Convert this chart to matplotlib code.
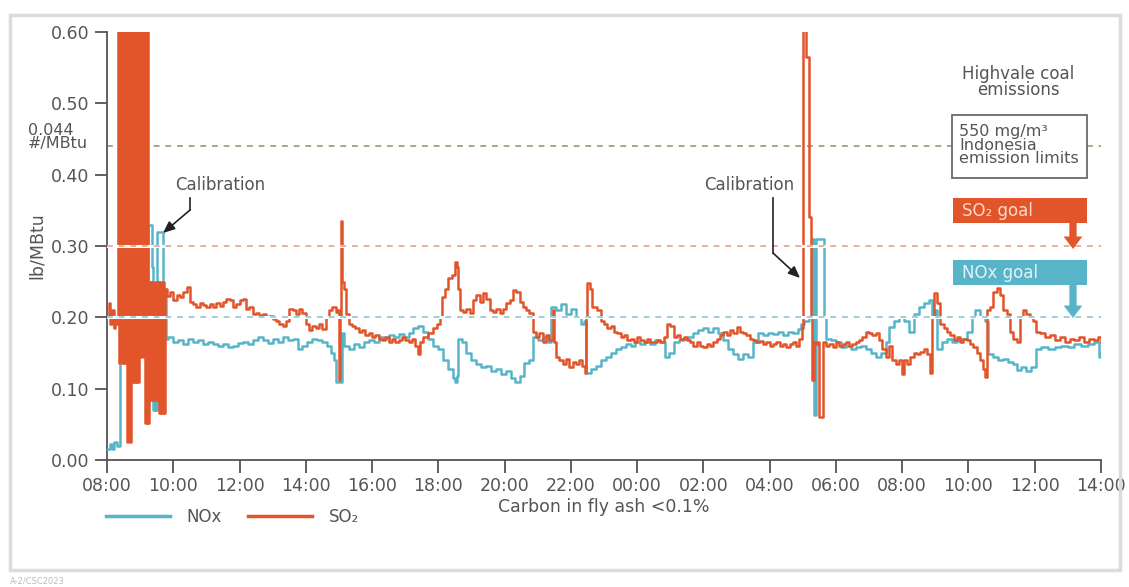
import matplotlib.pyplot as plt
from matplotlib.patches import Rectangle

# hours after 08:00 on day one
nox_hours = [0.00, 0.08, 0.15, 0.22, 0.30, 0.38, 0.40, 0.55, 0.75, 0.95, 1.10, 1.22, 1.23, 1.35, 1.36, 1.39,
             1.40, 1.44, 1.46, 1.50, 1.68, 1.69, 1.74, 1.78,
             1.85, 2.0, 2.15, 2.3, 2.45, 2.6, 2.75, 2.9, 3.05, 3.2, 3.35, 3.5, 3.65, 3.8, 3.95, 4.1, 4.25,
             4.4, 4.55, 4.7, 4.85, 5.0, 5.15, 5.3, 5.45, 5.6, 5.75, 5.9, 6.05, 6.2, 6.35, 6.5, 6.65, 6.75,
             6.85, 6.9, 7.05, 7.08, 7.15, 7.3, 7.45, 7.6, 7.75, 7.9, 8.05, 8.2, 8.35, 8.5, 8.65, 8.8, 8.95,
             9.1, 9.25, 9.4, 9.55, 9.7, 9.85, 10.0, 10.15, 10.3, 10.45, 10.5, 10.55, 10.6, 10.7, 10.85,
             11.0, 11.15, 11.3, 11.45, 11.6, 11.75, 11.9, 12.05, 12.2, 12.3, 12.45, 12.6, 12.75, 12.85,
             13.0, 13.15, 13.3, 13.4, 13.55, 13.7, 13.85, 14.0, 14.15, 14.3, 14.4, 14.45, 14.6, 14.75,
             14.9, 15.05, 15.2, 15.35, 15.5, 15.65, 15.8, 15.95, 16.1, 16.25, 16.4, 16.55, 16.7, 16.85,
             16.95, 17.1, 17.25, 17.4, 17.55, 17.7, 17.85, 18.0, 18.15, 18.3, 18.45, 18.6, 18.75, 18.9,
             19.05, 19.2, 19.35, 19.5, 19.65, 19.8, 19.95, 20.1, 20.25, 20.4, 20.55, 20.7, 20.85, 20.95,
             21.05, 21.2, 21.28, 21.32, 21.33, 21.38, 21.39, 21.62, 21.64, 21.7, 21.85, 22.0, 22.15, 22.3,
             22.45, 22.6, 22.75, 22.9, 23.05, 23.2, 23.35, 23.5, 23.6, 23.75, 23.9, 24.05, 24.2, 24.35,
             24.5, 24.65, 24.8, 24.9, 25.0, 25.05, 25.2, 25.35, 25.5, 25.65, 25.8, 25.95, 26.1, 26.2,
             26.35, 26.5, 26.6, 26.75, 26.9, 27.05, 27.2, 27.35, 27.45, 27.6, 27.75, 27.9, 28.05, 28.2,
             28.4, 28.6, 28.8, 29.0, 29.2, 29.4, 29.6, 29.8, 29.95, 30.0]
nox_values = [0.015, 0.022, 0.015, 0.025, 0.020, 0.028, 0.14, 0.16, 0.19, 0.20, 0.21, 0.18, 0.33, 0.33, 0.27, 0.27,
              0.07, 0.12, 0.07, 0.32, 0.32, 0.24, 0.24, 0.17,
              0.172, 0.165, 0.168, 0.162, 0.170, 0.166, 0.168, 0.163, 0.166, 0.162, 0.160, 0.163, 0.158,
              0.160, 0.164, 0.166, 0.162, 0.168, 0.172, 0.168, 0.164, 0.170, 0.165, 0.172, 0.168, 0.170,
              0.155, 0.160, 0.165, 0.170, 0.168, 0.165, 0.160, 0.150, 0.140, 0.109, 0.109, 0.178, 0.160,
              0.155, 0.162, 0.158, 0.165, 0.168, 0.165, 0.172, 0.170, 0.175, 0.173, 0.176, 0.172, 0.178,
              0.185, 0.188, 0.180, 0.170, 0.160, 0.155, 0.140, 0.128, 0.115, 0.110, 0.118, 0.170, 0.165,
              0.150, 0.140, 0.135, 0.130, 0.132, 0.125, 0.128, 0.120, 0.125, 0.115, 0.110, 0.118, 0.136,
              0.140, 0.172, 0.168, 0.172, 0.165, 0.215, 0.210, 0.218, 0.205, 0.212, 0.200, 0.190, 0.195,
              0.122, 0.128, 0.132, 0.140, 0.145, 0.150, 0.155, 0.158, 0.162, 0.160, 0.165, 0.162, 0.166,
              0.163, 0.168, 0.165, 0.145, 0.150, 0.165, 0.168, 0.170, 0.172, 0.178, 0.182, 0.185, 0.180,
              0.185, 0.178, 0.168, 0.155, 0.148, 0.142, 0.148, 0.145, 0.165, 0.178, 0.175, 0.178, 0.176,
              0.180, 0.175, 0.180, 0.178, 0.183, 0.190, 0.195, 0.200, 0.31, 0.31, 0.063, 0.063, 0.31, 0.31,
              0.200, 0.170, 0.168, 0.165, 0.158, 0.160, 0.155, 0.158, 0.160, 0.155, 0.150, 0.145, 0.150,
              0.165, 0.186, 0.195, 0.200, 0.195, 0.180, 0.205, 0.215, 0.220, 0.224, 0.200, 0.210, 0.155,
              0.165, 0.170, 0.165, 0.168, 0.170, 0.180, 0.200, 0.210, 0.200, 0.195, 0.148, 0.145, 0.140,
              0.142, 0.138, 0.135, 0.126, 0.130, 0.125, 0.130, 0.155, 0.158, 0.155, 0.158, 0.160, 0.158,
              0.162, 0.160, 0.163, 0.165, 0.145, 0.150]

so2_hours = [0.00, 0.05, 0.10, 0.15, 0.20, 0.25, 0.30,
             0.32, 0.36, 0.40, 0.44, 0.48, 0.52, 0.56, 0.60, 0.64, 0.68, 0.72, 0.76, 0.80, 0.84, 0.88,
             0.92, 0.96, 1.00, 1.04, 1.08, 1.12, 1.16, 1.20, 1.24, 1.28, 1.32, 1.36, 1.40, 1.44, 1.48,
             1.52, 1.56, 1.60, 1.64, 1.68, 1.72, 1.76,
             1.80, 1.9, 2.0, 2.1, 2.2, 2.3, 2.4, 2.5, 2.6, 2.7, 2.8, 2.9, 3.0, 3.1, 3.2, 3.3, 3.4, 3.5,
             3.6, 3.7, 3.8, 3.9, 4.0, 4.1, 4.2, 4.3, 4.4, 4.5, 4.6, 4.7, 4.8, 4.9, 5.0, 5.1, 5.2, 5.3,
             5.4, 5.5, 5.6, 5.7, 5.8, 5.9, 6.0, 6.1, 6.2, 6.3, 6.4, 6.5, 6.6, 6.7, 6.8, 6.9, 6.98, 7.0,
             7.04, 7.06, 7.09, 7.1, 7.15, 7.2, 7.3, 7.4, 7.5, 7.6, 7.7, 7.8, 7.9, 8.0, 8.1, 8.2, 8.3,
             8.4, 8.5, 8.6, 8.7, 8.8, 8.9, 9.0, 9.1, 9.2, 9.3, 9.4, 9.45, 9.55, 9.7, 9.85, 9.95, 10.05,
             10.1, 10.2, 10.3, 10.4, 10.5, 10.55, 10.6, 10.65, 10.75, 10.85, 10.95, 11.05, 11.15, 11.25,
             11.35, 11.45, 11.55, 11.65, 11.75, 11.85, 11.95, 12.05, 12.15, 12.25, 12.35, 12.45, 12.55,
             12.65, 12.75, 12.85, 12.95, 13.05, 13.15, 13.25, 13.35, 13.45, 13.5, 13.55, 13.65, 13.75,
             13.85, 13.95, 14.05, 14.15, 14.25, 14.35, 14.42, 14.45, 14.5, 14.58, 14.65, 14.8, 14.9,
             15.0, 15.1, 15.2, 15.3, 15.4, 15.5, 15.6, 15.7, 15.8, 15.9, 16.0, 16.1, 16.2, 16.3, 16.4,
             16.5, 16.6, 16.7, 16.8, 16.9, 17.0, 17.1, 17.2, 17.3, 17.4, 17.5, 17.6, 17.7, 17.8, 17.9,
             18.0, 18.1, 18.2, 18.3, 18.4, 18.5, 18.6, 18.7, 18.8, 18.9, 19.0, 19.1, 19.2, 19.3, 19.4,
             19.5, 19.6, 19.7, 19.8, 19.9, 20.0, 20.1, 20.2, 20.3, 20.4, 20.5, 20.6, 20.7, 20.8, 20.9,
             20.98, 21.0, 21.08, 21.1, 21.18, 21.2, 21.24, 21.27, 21.3, 21.33, 21.4, 21.47, 21.5, 21.55,
             21.6, 21.7, 21.8, 21.9, 22.0, 22.1, 22.2, 22.3, 22.4, 22.5, 22.6, 22.7, 22.8, 22.9, 23.0,
             23.1, 23.2, 23.3, 23.4, 23.5, 23.6, 23.7, 23.8, 23.9, 24.0, 24.05, 24.15, 24.25, 24.35,
             24.45, 24.55, 24.65, 24.75, 24.85, 24.9, 24.95, 25.05, 25.15, 25.25, 25.35, 25.45, 25.55,
             25.65, 25.75, 25.85, 25.95, 26.05, 26.15, 26.25, 26.35, 26.45, 26.5, 26.55, 26.65, 26.75,
             26.85, 26.95, 27.05, 27.15, 27.25, 27.35, 27.45, 27.55, 27.65, 27.75, 27.85, 27.95, 28.05,
             28.15, 28.3, 28.45, 28.6, 28.75, 28.9, 29.05, 29.2, 29.35, 29.5, 29.65, 29.8, 29.9, 30.0]
so2_values = [0.20, 0.22, 0.19, 0.21, 0.185, 0.20, 0.19,
              0.62, 0.136, 0.62, 0.136, 0.62, 0.136, 0.62, 0.025, 0.62, 0.025, 0.62, 0.11, 0.62, 0.11,
              0.62, 0.11, 0.62, 0.145, 0.62, 0.145, 0.62, 0.052, 0.62, 0.052, 0.25, 0.084, 0.25, 0.084,
              0.25, 0.084, 0.25, 0.066, 0.25, 0.066, 0.25, 0.066, 0.24,
              0.230, 0.235, 0.225, 0.232, 0.228, 0.236, 0.243, 0.222, 0.218, 0.215, 0.220, 0.217, 0.214,
              0.218, 0.215, 0.220, 0.216, 0.222, 0.226, 0.224, 0.215, 0.218, 0.224, 0.226, 0.212, 0.215,
              0.205, 0.206, 0.203, 0.205, 0.200, 0.202, 0.198, 0.195, 0.190, 0.188, 0.195, 0.212, 0.210,
              0.205, 0.212, 0.206, 0.190, 0.182, 0.188, 0.185, 0.190, 0.183, 0.200, 0.210, 0.215, 0.208,
              0.210, 0.112, 0.200, 0.335, 0.330, 0.250, 0.240, 0.205, 0.190, 0.188, 0.185, 0.180, 0.182,
              0.175, 0.178, 0.172, 0.175, 0.170, 0.168, 0.172, 0.166, 0.170, 0.165, 0.168, 0.172, 0.168,
              0.165, 0.170, 0.160, 0.148, 0.165, 0.172, 0.178, 0.185, 0.190, 0.200, 0.228, 0.240, 0.255,
              0.260, 0.278, 0.270, 0.240, 0.210, 0.208, 0.212, 0.206, 0.225, 0.232, 0.222, 0.234, 0.226,
              0.210, 0.208, 0.212, 0.206, 0.212, 0.220, 0.225, 0.238, 0.235, 0.222, 0.215, 0.210, 0.206,
              0.180, 0.172, 0.178, 0.165, 0.175, 0.168, 0.210, 0.165, 0.145, 0.140, 0.135, 0.142, 0.130,
              0.138, 0.135, 0.140, 0.132, 0.122, 0.200, 0.248, 0.240, 0.215, 0.210, 0.195, 0.190, 0.185,
              0.188, 0.180, 0.178, 0.172, 0.175, 0.168, 0.170, 0.166, 0.172, 0.168, 0.165, 0.170, 0.166,
              0.165, 0.168, 0.165, 0.172, 0.190, 0.188, 0.172, 0.175, 0.170, 0.172, 0.168, 0.165, 0.160,
              0.165, 0.160, 0.158, 0.162, 0.160, 0.165, 0.170, 0.175, 0.180, 0.175, 0.182, 0.178, 0.186,
              0.180, 0.178, 0.175, 0.170, 0.168, 0.165, 0.167, 0.162, 0.165, 0.160, 0.163, 0.165, 0.160,
              0.162, 0.158, 0.162, 0.165, 0.160, 0.170, 0.185, 0.605, 0.605, 0.565, 0.565, 0.340, 0.200,
              0.112, 0.112, 0.165, 0.162, 0.165, 0.060, 0.060, 0.165, 0.160, 0.162, 0.158, 0.165, 0.160,
              0.162, 0.165, 0.160, 0.163, 0.165, 0.168, 0.172, 0.180, 0.178, 0.175, 0.178, 0.168, 0.155,
              0.145, 0.160, 0.140, 0.135, 0.140, 0.120, 0.140, 0.135, 0.145, 0.150, 0.148, 0.152, 0.155,
              0.148, 0.122, 0.200, 0.234, 0.220, 0.190, 0.185, 0.180, 0.175, 0.168, 0.172, 0.165, 0.170,
              0.168, 0.162, 0.158, 0.150, 0.140, 0.128, 0.117, 0.210, 0.215, 0.235, 0.241, 0.232, 0.210,
              0.205, 0.180, 0.170, 0.165, 0.200, 0.210, 0.205, 0.200, 0.195, 0.180, 0.178, 0.172, 0.175,
              0.168, 0.172, 0.165, 0.170, 0.168, 0.172, 0.166, 0.170, 0.168, 0.172, 0.165]

tick_hours = list(range(0, 31, 2))
tick_labels = ["08:00", "10:00", "12:00", "14:00", "16:00", "18:00", "20:00", "22:00",
               "00:00", "02:00", "04:00", "06:00", "08:00", "10:00", "12:00", "14:00"]

limit_line = 0.44   # 550 mg/m3 Indonesia limit
so2_goal = 0.30
nox_goal = 0.20

TEAL = "#58b5c9"
ORANGE = "#e2542a"
GREY = "#555555"

plt.rcParams["font.family"] = ["DejaVu Sans"]

fig = plt.figure(figsize=(11.29, 5.87), dpi=100)
W, H = 1129, 587


def fx(px):
    return px / W


def fy(py):
    return 1 - py / H


ax = fig.add_axes([fx(107), fy(460), fx(1101) - fx(107), fy(32) - fy(460)])

ax.plot(nox_hours, nox_values, color=TEAL, lw=1.8, drawstyle="steps-post", zorder=3)
ax.plot(so2_hours, so2_values, color=ORANGE, lw=1.8, drawstyle="steps-post", zorder=4)

# reference lines, the two goals get a white gap under the dashes
ax.axhline(limit_line, color="#9c9a6e", lw=1.2, dashes=(3.5, 3.5), zorder=2)
for level, col in [(so2_goal, "#e8a282"), (nox_goal, "#8cc6d2")]:
    ax.axhline(level, color="white", lw=2.2, zorder=5)
    ax.axhline(level, color=col, lw=1.2, dashes=(3.5, 3.5), zorder=6)

ax.set_xlim(0, 30)
ax.set_ylim(0, 0.6)
ax.set_xticks(tick_hours)
ax.set_xticklabels(tick_labels)
ax.set_yticks([0, 0.1, 0.2, 0.3, 0.4, 0.5, 0.6])
ax.set_yticklabels(["0.00", "0.10", "0.20", "0.30", "0.40", "0.50", "0.60"])
ax.tick_params(colors=GREY, labelsize=12.5, length=9, width=1.3, direction="out")
for s in ["top", "right"]:
    ax.spines[s].set_visible(False)
for s in ["left", "bottom"]:
    ax.spines[s].set_color(GREY)
    ax.spines[s].set_linewidth(1.3)

ax.set_ylabel("lb/MBtu", color=GREY, fontsize=12.5, labelpad=4)
ax.set_xlabel("Carbon in fly ash <0.1%", color=GREY, fontsize=12.5, labelpad=2)

fig.text(fx(28), fy(137), "0.044\n#/MBtu", color=GREY, fontsize=11.5, va="center",
         ha="left", linespacing=0.85)

# calibration notes
for txt_x, start, bend, tip in [(220, (190, 198), (190, 210), (163, 233)),
                                (749, (773, 198), (773, 253), (800, 278))]:
    fig.text(fx(txt_x), fy(185), "Calibration", color=GREY, fontsize=12, ha="center", va="center")
    fig.add_artist(plt.Line2D([fx(start[0]), fx(bend[0])], [fy(start[1]), fy(bend[1])],
                              color="#222222", lw=1.2))
    ax.annotate("", xy=(fx(tip[0]), fy(tip[1])), xycoords="figure fraction",
                xytext=(fx(bend[0]), fy(bend[1])), textcoords="figure fraction",
                arrowprops=dict(arrowstyle="-|>,head_width=0.3,head_length=0.7", color="#222222",
                                lw=1.2, shrinkA=0, shrinkB=0))

# right hand annotations
fig.text(fx(1018), fy(82), "Highvale coal\nemissions", color=GREY, fontsize=12, ha="center",
         va="center", linespacing=0.85)
fig.add_artist(Rectangle((fx(952), fy(178)), fx(135), 63 / H, facecolor="white",
                         edgecolor="#6a6a6a", lw=1.3, zorder=5))
fig.text(fx(959), fy(145), "550 mg/m³\nIndonesia\nemission limits", color=GREY, fontsize=11.5,
         ha="left", va="center", linespacing=0.9, zorder=6)

for top, label, col, txtcol, arrow_end in [(198, "SO₂ goal", ORANGE, "#fbd9cb", 249),
                                           (260, "NOx goal", TEAL, "#e2f3f7", 318)]:
    fig.add_artist(Rectangle((fx(953), fy(top + 25)), fx(134), 25 / H, facecolor=col,
                             edgecolor="none", zorder=5))
    fig.text(fx(962), fy(top + 12.5), label, color=txtcol, fontsize=12, ha="left", va="center",
             zorder=6)
    ax.annotate("", xy=(fx(1073), fy(arrow_end)), xycoords="figure fraction",
                xytext=(fx(1073), fy(top + 24)), textcoords="figure fraction",
                arrowprops=dict(arrowstyle="simple,head_width=0.9,head_length=0.6,tail_width=0.35",
                                mutation_scale=15, facecolor=col, edgecolor="none",
                                shrinkA=0, shrinkB=0), zorder=7)

# legend under the axis
h1, = ax.plot([], [], color=TEAL, lw=2.5)
h2, = ax.plot([], [], color=ORANGE, lw=2.5)
fig.legend([h1, h2], ["NOx", "SO₂"], loc="center left", bbox_to_anchor=(fx(98), fy(517)),
           ncol=2, frameon=False, fontsize=12, handlelength=3.8, handletextpad=1.0,
           columnspacing=1.6, borderpad=0, labelcolor=GREY)

# outer frame and source tag
fig.add_artist(Rectangle((fx(10), fy(570)), fx(1110), 555 / H, fill=False,
                         edgecolor="#dcdcdc", lw=2.5))
fig.text(fx(10), fy(581), "A-2/CSC2023", color="#bbbbbb", fontsize=6, ha="left", va="center")

fig.savefig("out.png", dpi=100)
